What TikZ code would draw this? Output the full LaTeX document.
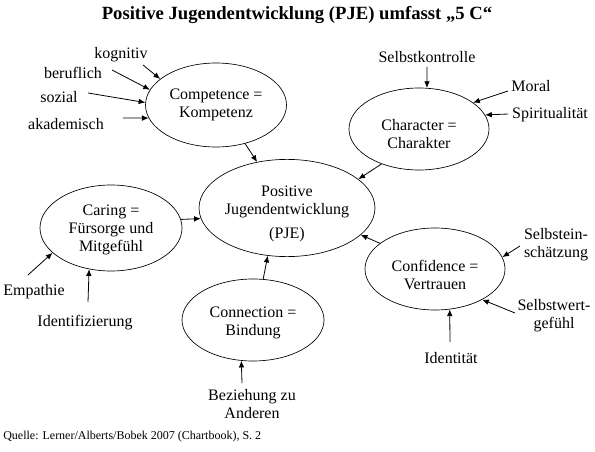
\documentclass[tikz,border=0pt]{standalone}
\usepackage{fontspec}
\setmainfont{Liberation Serif}
\usetikzlibrary{arrows.meta,shapes.geometric}

\begin{document}
\begin{tikzpicture}[x=0.75pt,y=-0.75pt,>={Latex[length=5pt,width=4.2pt]},
    cee/.style={draw,ellipse,line width=0.5pt,inner sep=0pt,align=center,font=\fontsize{12}{13.5}\selectfont},
    lbl/.style={align=center,inner sep=0pt,font=\fontsize{12}{13.5}\selectfont},
    arr/.style={->,line width=0.6pt}]
  \useasboundingbox (0,0) rectangle (595,452);
  % title and source
  \node[font=\fontsize{14}{16}\selectfont\bfseries] (title) at (297,15) {Positive Jugendentwicklung (PJE) umfasst „5 C“};
  \node[anchor=west,inner sep=0pt,font=\fontsize{9}{10}\selectfont] (quelle) at (3,437) {Quelle: Lerner/Alberts/Bobek 2007 (Chartbook), S. 2};
  % the five C and the centre (struts push the text a bit down)
  \node[cee,minimum width=142*0.75pt,minimum height=87*0.75pt] (pje) at (287,208) {\rule{0pt}{17pt}Positive\\Jugendentwicklung\\[5pt](PJE)};
  \node[cee,minimum width=141*0.75pt,minimum height=84*0.75pt] (comp) at (216,105) {Competence =\\Kompetenz};
  \node[cee,minimum width=140*0.75pt,minimum height=82*0.75pt] (char) at (419,129) {\rule{0pt}{16pt}Character =\\Charakter};
  \node[cee,minimum width=142*0.75pt,minimum height=86*0.75pt] (car) at (111,228) {\rule{0pt}{11pt}Caring =\\Fürsorge und\\Mitgefühl};
  \node[cee,minimum width=142*0.75pt,minimum height=82*0.75pt] (con) at (253,320) {\rule{0pt}{12pt}Connection =\\Bindung};
  \node[cee,minimum width=140*0.75pt,minimum height=82*0.75pt] (conf) at (435,269) {\rule{0pt}{17pt}Confidence =\\Vertrauen};
  % labels
  \foreach \n/\p/\t in {kog/{121,55}/kognitiv, ber/{73,73}/beruflich, soz/{59,97}/sozial,
      aka/{66,124}/akademisch, sel/{427,57}/Selbstkontrolle, mor/{531,86}/Moral,
      spi/{550,115}/Spiritualität, emp/{34,292}/Empathie, ide/{85,323}/Identifizierung,
      bez/{252,404}/{Beziehung zu\\Anderen}, sein/{556,245}/{Selbstein-\\schätzung},
      swert/{554,316}/{Selbstwert-\\gefühl}, idt/{451,358}/Identität}
    \node[lbl] (\n) at (\p) {\t};
  % arrow tails
  \foreach \n/\p in {tKog/{143,65}, tBer/{112,70}, tSoz/{88,93}, tAka/{123,118},
      tSel/{427,67}, tMor/{508,91}, tSpi/{508,114}, tEmp/{28,275}, tIde/{88,302},
      tBez/{242,383}, tSein/{520,246}, tSwert/{515,313}, tIdt/{450,342}}
    \coordinate (\n) at (\p);
  \foreach \a/\b in {tKog/comp.155, tBer/comp.167, tSoz/comp.178, tAka/comp.191,
      tSel/char.79, tMor/char.26, tSpi/char.12, tEmp/car.203, tIde/car.242,
      tBez/con.254, tSein/conf.10, tSwert/conf.-33, tIdt/conf.-70}
    \draw[arr] (\a) -- (\b);
  % into the centre
  \foreach \a/\b in {comp.-53/pje.123, char.223/pje.22, car.7/pje.187,
      con.76/pje.248, conf.155/pje.-20}
    \draw[arr] (\a) -- (\b);
\end{tikzpicture}
\end{document}
